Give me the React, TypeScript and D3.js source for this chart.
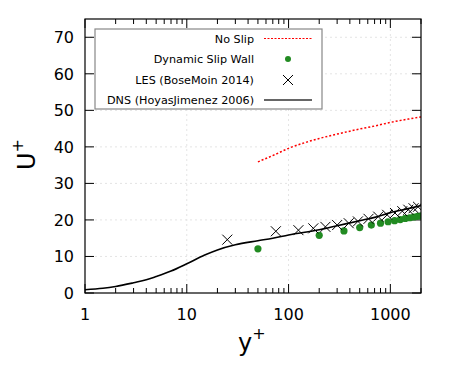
import React from "react";
import * as d3 from "d3";

// DNS (Hoyas & Jimenez 2006)
const dnsY = [1, 1.5, 2, 3, 4, 5, 7, 10, 15, 20, 30, 50, 70, 100, 200, 300, 500, 700, 1000, 1500, 2000];
const dnsU = [0.9, 1.3, 1.8, 2.8, 3.6, 4.5, 6.0, 8.0, 10.4, 11.8, 13.2, 14.3, 15.0, 15.9, 17.3, 18.4, 19.8, 20.7, 22.0, 23.1, 23.9];

// No slip
const noSlipY = [50, 75, 100, 150, 200, 300, 400, 500, 700, 1000, 1500, 2000];
const noSlipU = [35.9, 38.0, 39.6, 41.3, 42.3, 43.5, 44.3, 44.9, 45.7, 46.7, 47.6, 48.2];

// Dynamic slip wall
const dswY = [50, 200, 350, 500, 650, 800, 950, 1100, 1250, 1400, 1550, 1700, 1850, 2000];
const dswU = [12.1, 15.8, 17.0, 17.9, 18.6, 19.1, 19.5, 19.8, 20.1, 20.4, 20.6, 20.8, 21.0, 21.1];

// LES (Bose & Moin 2014)
const lesY = [25, 75, 125, 175, 230, 300, 390, 480, 610, 760, 930, 1110, 1310, 1500, 1690, 1870];
const lesU = [14.6, 16.9, 17.2, 17.7, 18.1, 18.6, 19.1, 19.6, 20.3, 20.9, 21.4, 21.9, 22.4, 22.8, 23.2, 23.6];

const xTicks = [1, 10, 100, 1000];
const yTicks = [0, 10, 20, 30, 40, 50, 60, 70];

const legendLabels = ["No Slip", "Dynamic Slip Wall", "LES (BoseMoin 2014)", "DNS (HoyasJimenez 2006)"];

const W = 450, H = 375;
const L = 85, R = 421, T = 19, B = 293;

export default function App() {
  const x = d3.scaleLog().domain([1, 2000]).range([L, R]);
  const y = d3.scaleLinear().domain([0, 75]).range([B, T]);
  const line = d3.line<[number, number]>().x(d => x(d[0])).y(d => y(d[1])).curve(d3.curveMonotoneX);

  const dnsPts = dnsY.map((v, i) => [v, dnsU[i]] as [number, number]);
  const nsPts = noSlipY.map((v, i) => [v, noSlipU[i]] as [number, number]);

  const minor: number[] = [];
  for (let dec = 1; dec <= 1000; dec *= 10) {
    for (let k = 2; k <= 9; k++) {
      const v = k * dec;
      if (v <= 2000) minor.push(v);
    }
  }

  const font = "DejaVu Sans, sans-serif";
  const green = "#228b22";
  const cs = 5;

  const legX = 95, legY = 29, legW = 227, legH = 80;
  const rows = [38.5, 59, 80, 100];
  const txtX = 254;
  const sampX0 = 264, sampX1 = 312;

  return (
    <svg width={W} height={H} style={{ position: "absolute", left: 0, top: 0, background: "#fff" }} fontFamily={font}>
      <defs>
        <clipPath id="plot">
          <rect x={L} y={T} width={R - L} height={B - T} />
        </clipPath>
      </defs>
      <rect x={0} y={0} width={W} height={H} fill="#fff" />
      {/* grid */}
      {xTicks.slice(1).map(t => (
        <line key={"gx" + t} x1={x(t)} x2={x(t)} y1={T} y2={B} stroke="#e4e4e4" strokeDasharray="2,3" />
      ))}
      {yTicks.slice(1).map(t => (
        <line key={"gy" + t} x1={L} x2={R} y1={y(t)} y2={y(t)} stroke="#e4e4e4" strokeDasharray="2,3" />
      ))}

      {/* ticks */}
      {xTicks.map(t => (
        <g key={"xt" + t}>
          <line x1={x(t)} x2={x(t)} y1={B} y2={B - 9} stroke="#000" />
          <line x1={x(t)} x2={x(t)} y1={T} y2={T + 9} stroke="#000" />
          <text x={x(t)} y={320} textAnchor="middle" fontSize={16} fill="#000">{t}</text>
        </g>
      ))}
      {minor.map(t => (
        <g key={"mt" + t}>
          <line x1={x(t)} x2={x(t)} y1={B} y2={B - 5} stroke="#000" />
          <line x1={x(t)} x2={x(t)} y1={T} y2={T + 5} stroke="#000" />
        </g>
      ))}
      {yTicks.map(t => (
        <g key={"yt" + t}>
          <line x1={L} x2={L + 9} y1={y(t)} y2={y(t)} stroke="#000" />
          <line x1={R} x2={R - 9} y1={y(t)} y2={y(t)} stroke="#000" />
          <text x={74} y={y(t) + 6} textAnchor="end" fontSize={16} fill="#000">{t}</text>
        </g>
      ))}

      <g clipPath="url(#plot)">
        <path d={line(nsPts) || ""} fill="none" stroke="#ff0000" strokeWidth={1.5} strokeDasharray="2,2" />
        <path d={line(dnsPts) || ""} fill="none" stroke="#000" strokeWidth={1.6} />
        {dswY.map((v, i) => (
          <circle key={"d" + i} cx={x(v)} cy={y(dswU[i])} r={3.6} fill={green} />
        ))}
        {lesY.map((v, i) => {
          const cx = x(v), cy = y(lesU[i]);
          return (
            <path key={"l" + i} d={`M${cx - cs},${cy - cs}L${cx + cs},${cy + cs}M${cx - cs},${cy + cs}L${cx + cs},${cy - cs}`} stroke="#000" strokeWidth={1} fill="none" />
          );
        })}
      </g>

      {/* frame */}
      <rect x={L} y={T} width={R - L} height={B - T} fill="none" stroke="#000" strokeWidth={1.2} />

      {/* legend */}
      <rect x={legX} y={legY} width={legW} height={legH} fill="#fff" stroke="#888" strokeWidth={1.2} />
      {legendLabels.map((s, i) => (
        <text key={"lg" + i} x={txtX} y={rows[i] + 4} textAnchor="end" fontSize={11.2} fill="#000">{s}</text>
      ))}
      <line x1={sampX0} x2={sampX1} y1={rows[0]} y2={rows[0]} stroke="#ff0000" strokeWidth={1.2} strokeDasharray="2,1.5" />
      <circle cx={(sampX0 + sampX1) / 2} cy={rows[1]} r={3} fill={green} />
      <path d={`M${288 - cs},${rows[2] - cs}L${288 + cs},${rows[2] + cs}M${288 - cs},${rows[2] + cs}L${288 + cs},${rows[2] - cs}`} stroke="#000" strokeWidth={1} />
      <line x1={sampX0} x2={sampX1} y1={rows[3]} y2={rows[3]} stroke="#333" strokeWidth={1.6} />

      {/* axis labels */}
      <text x={238} y={351} fontSize={24} fill="#000">y<tspan fontSize={16} dy={-12}>+</tspan></text>
      <text transform="translate(35,170) rotate(-90)" fontSize={24} fill="#000">U<tspan fontSize={16} dy={-12}>+</tspan></text>
    </svg>
  );
}
